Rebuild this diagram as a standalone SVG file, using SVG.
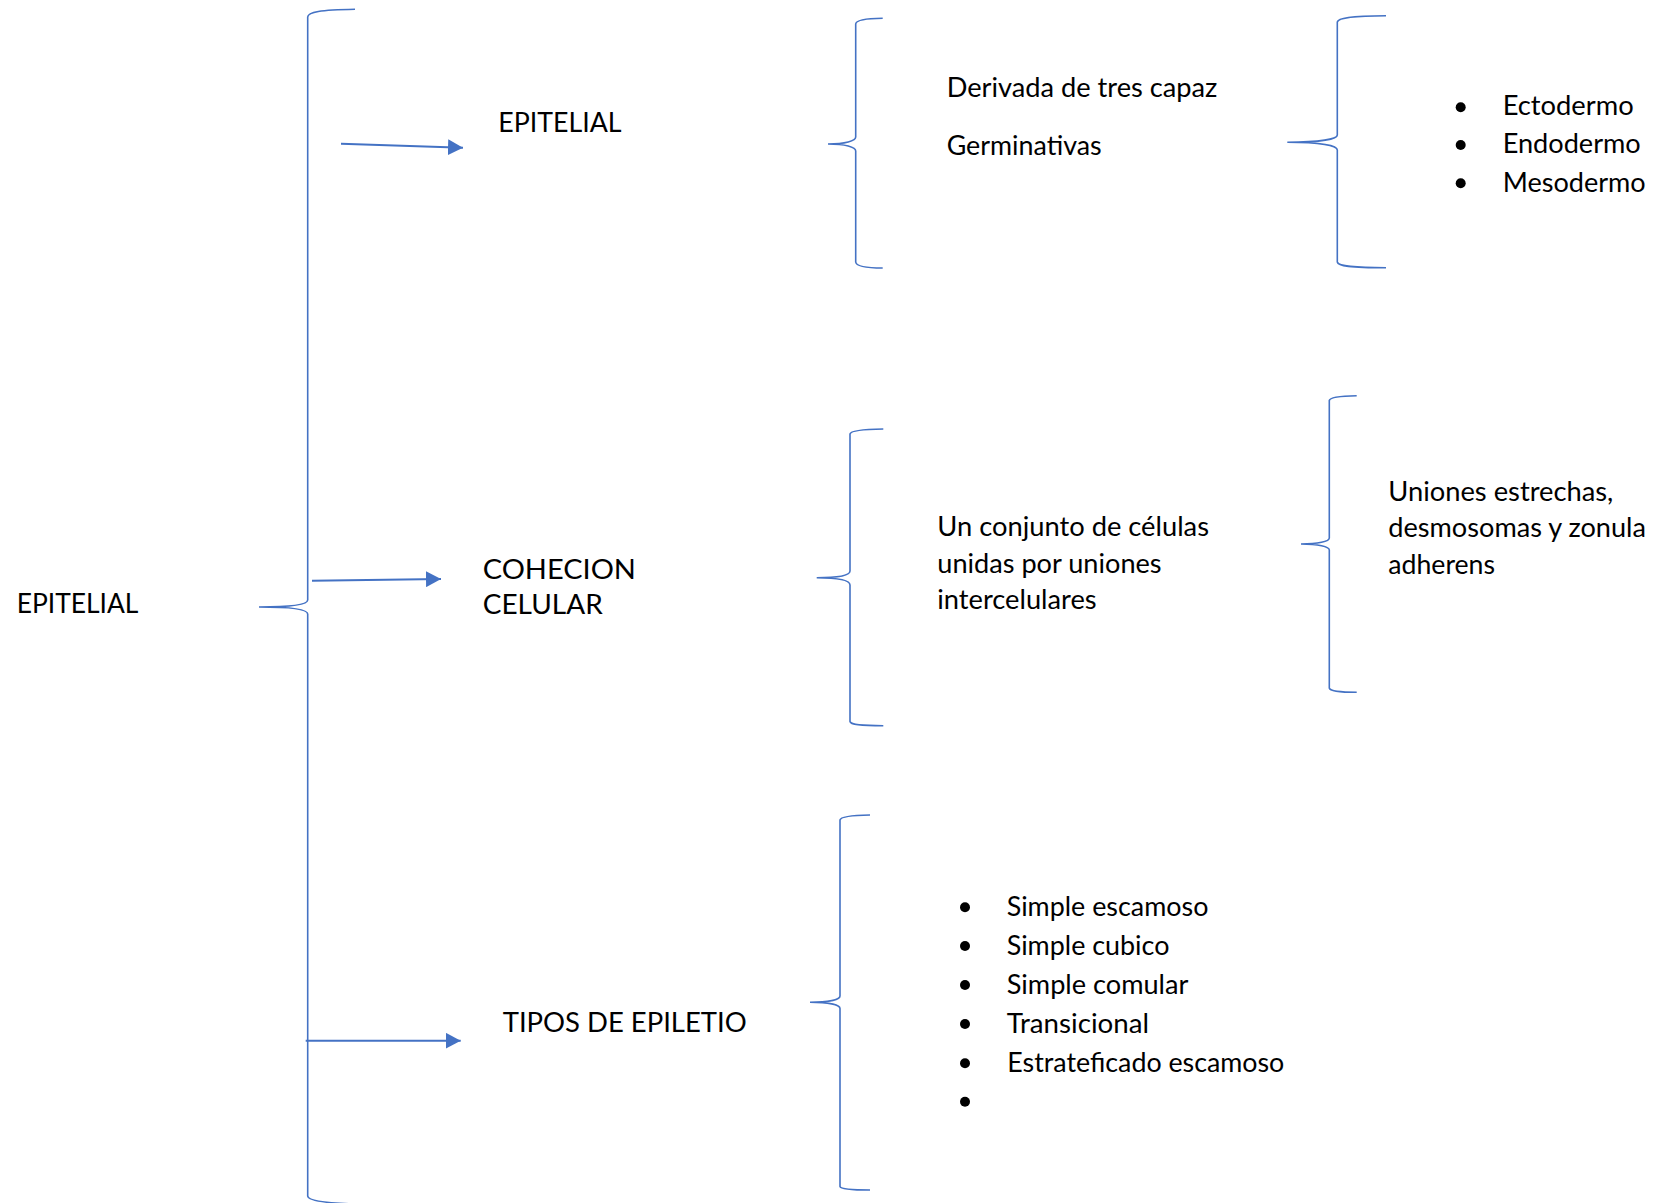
<svg xmlns="http://www.w3.org/2000/svg" width="1655" height="1203" viewBox="0 0 1655 1203">
<style>
.br{fill:none;stroke:#4472C4;stroke-width:1.6}
.ar{fill:none;stroke:#4472C4;stroke-width:2}
.t{font-family:Lato,"Liberation Sans",sans-serif;font-size:26px;fill:#000}
.b{fill:#000}
</style>
<defs>
<marker id="ah" markerUnits="userSpaceOnUse" markerWidth="16" markerHeight="16" refX="15" refY="8" orient="auto">
<path d="M0,0 L15,8 L0,16 z" fill="#4472C4"/>
</marker>
</defs>
<rect width="1655" height="1203" fill="#fff"/>
<g id="connectors">
<path class="br" d="M355,9.3 C320,10 308,12 307.7,17 L307.7,600 C307.7,604 295,607 259,607 C295,607 307.7,610 307.7,614 L307.7,1196 C308,1200 320,1203 355,1204"/>
<path class="br" d="M882.7,18.3 C865,18.5 856,20 855.7,24 L855.7,137 C855.7,141 845,144 828,144 C845,144 855.7,147 855.7,151 L855.7,262 C856,266 865,268 882.7,268"/>
<path class="br" d="M1386,15.7 C1350,16 1338,18 1337.3,22 L1337.3,135 C1337.3,139 1320,142.3 1287.3,142.3 C1320,142.3 1337.3,145.5 1337.3,150 L1337.3,262 C1338,266 1350,267.7 1386,267.7"/>
<path class="br" d="M883.3,429 C860,429.3 850.5,431 850,434 L850,571 C850,575 840,577.7 816.7,577.7 C840,577.7 850,580.5 850,585 L850,721.5 C850.5,724.5 860,725.7 883.3,725.7"/>
<path class="br" d="M1356.7,395.7 C1338,396 1329.8,397.5 1329.3,400.5 L1329.3,538 C1329.3,541.5 1318,544 1301,544 C1318,544 1329.3,546.5 1329.3,550 L1329.3,688 C1329.8,691 1338,692.3 1356.7,692.3"/>
<path class="br" d="M870,815 C850,815.3 840.5,817 840,820 L840,996 C840,1000 828,1002.3 810,1002.3 C828,1002.3 840,1004.5 840,1008.5 L840,1186.5 C840.5,1189 850,1190 870,1190"/>
<line class="ar" x1="341" y1="143.7" x2="463" y2="147.7" marker-end="url(#ah)"/>
<line class="ar" x1="312" y1="580.7" x2="441" y2="579" marker-end="url(#ah)"/>
<line class="ar" x1="305.7" y1="1040.7" x2="460.7" y2="1040.7" marker-end="url(#ah)"/>
</g>
<g id="node-root"><text class="t" x="16.7" y="613.3" textLength="121.7" lengthAdjust="spacingAndGlyphs">EPITELIAL</text></g>
<g id="node-epitelial"><text class="t" x="498.3" y="132" textLength="123.3" lengthAdjust="spacingAndGlyphs">EPITELIAL</text></g>
<g id="node-cohecion">
<text class="t" x="482.7" y="579.3" textLength="153.3" lengthAdjust="spacingAndGlyphs">COHECION</text>
<text class="t" x="482.7" y="614.3" textLength="120" lengthAdjust="spacingAndGlyphs">CELULAR</text>
</g>
<g id="node-tipos"><text class="t" x="502.7" y="1031.5" textLength="244" lengthAdjust="spacingAndGlyphs">TIPOS DE EPILETIO</text></g>
<g id="node-derivada">
<text class="t" x="946.7" y="96.5" textLength="270.7" lengthAdjust="spacingAndGlyphs">Derivada de tres capaz</text>
<text class="t" x="946.7" y="155" textLength="155" lengthAdjust="spacingAndGlyphs">Germinativas</text>
</g>
<g id="node-capas">
<circle class="b" cx="1460.7" cy="107.3" r="5"/>
<circle class="b" cx="1460.7" cy="145" r="5"/>
<circle class="b" cx="1460.7" cy="183.3" r="5"/>
<text class="t" x="1502.7" y="115" textLength="131" lengthAdjust="spacingAndGlyphs">Ectodermo</text>
<text class="t" x="1502.7" y="153.3" textLength="138" lengthAdjust="spacingAndGlyphs">Endodermo</text>
<text class="t" x="1502.7" y="192" textLength="143" lengthAdjust="spacingAndGlyphs">Mesodermo</text>
</g>
<g id="node-conjunto">
<text class="t" x="937.3" y="536" textLength="271.7" lengthAdjust="spacingAndGlyphs">Un conjunto de células</text>
<text class="t" x="937.3" y="572.5" textLength="224.3" lengthAdjust="spacingAndGlyphs">unidas por uniones</text>
<text class="t" x="937.3" y="608.5" textLength="159.3" lengthAdjust="spacingAndGlyphs">intercelulares</text>
</g>
<g id="node-uniones">
<text class="t" x="1388.3" y="501" textLength="225" lengthAdjust="spacingAndGlyphs">Uniones estrechas,</text>
<text class="t" x="1388.3" y="537" textLength="257.7" lengthAdjust="spacingAndGlyphs">desmosomas y zonula</text>
<text class="t" x="1388.3" y="573.5" textLength="106.7" lengthAdjust="spacingAndGlyphs">adherens</text>
</g>
<g id="node-tipos-lista">
<circle class="b" cx="965" cy="907.3" r="5"/>
<circle class="b" cx="965" cy="946" r="5"/>
<circle class="b" cx="965" cy="985" r="5"/>
<circle class="b" cx="965" cy="1024" r="5"/>
<circle class="b" cx="965" cy="1063.3" r="5"/>
<circle class="b" cx="965" cy="1101.7" r="5"/>
<text class="t" x="1006.7" y="915.5" textLength="201.7" lengthAdjust="spacingAndGlyphs">Simple escamoso</text>
<text class="t" x="1006.7" y="954.5" textLength="162.7" lengthAdjust="spacingAndGlyphs">Simple cubico</text>
<text class="t" x="1006.7" y="993.5" textLength="181.7" lengthAdjust="spacingAndGlyphs">Simple comular</text>
<text class="t" x="1006.7" y="1032.5" textLength="142.3" lengthAdjust="spacingAndGlyphs">Transicional</text>
<text class="t" x="1007.3" y="1071.7" textLength="277" lengthAdjust="spacingAndGlyphs">Estrateficado escamoso</text>
</g>
</svg>
